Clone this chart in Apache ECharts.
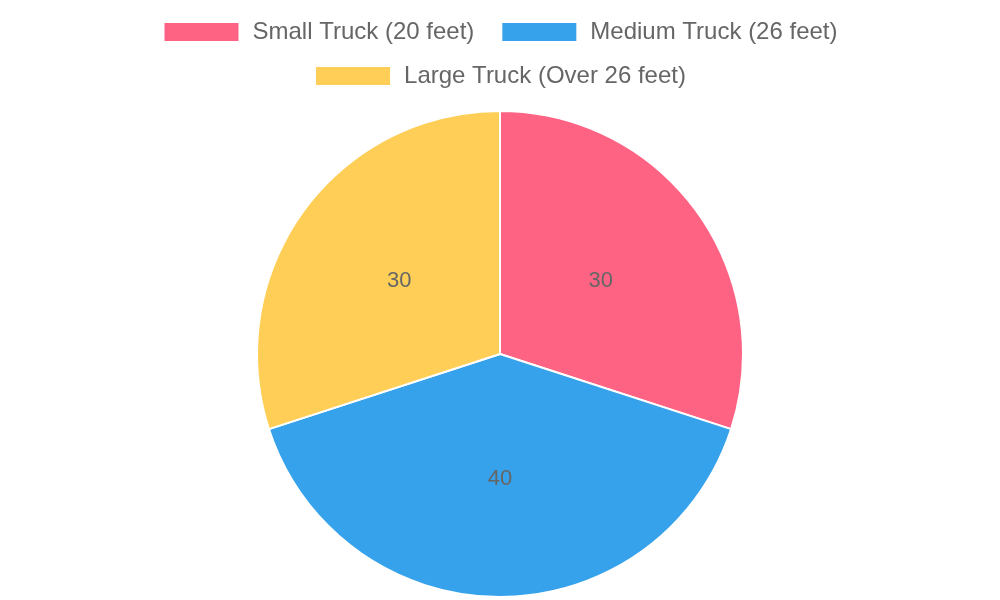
<!DOCTYPE html>
<html><head><meta charset="utf-8">
<script src="https://cdn.jsdelivr.net/npm/echarts@6/dist/echarts.min.js"></script>
<style>html,body{margin:0;padding:0;background:#fff}#c{width:1000px;height:600px}</style>
</head><body><div id="c"></div>
<script>
const categories = ['Small Truck (20 feet)', 'Medium Truck (26 feet)', 'Large Truck (Over 26 feet)'];
const values = [30, 40, 30];
const colors = ['#FF6384', '#36A2EB', '#FFCE56'];
const legendRows = [[0, 1], [2]];

const legendBase = {
  left: 'center',
  padding: 0,
  itemWidth: 76,
  itemHeight: 20,
  itemGap: 26,
  icon: 'rect',
  textStyle: { fontFamily: 'Liberation Sans, Arial', fontSize: 24, color: '#666', padding: [0, 0, 0, 8], lineHeight: 24 }
};

const chart = echarts.init(document.getElementById('c'));
chart.setOption({
  animation: false,
  color: colors,
  legend: legendRows.map((row, r) => Object.assign({}, legendBase, {
    top: 20 + r * 44,
    data: row.map(i => categories[i])
  })),
  series: [{
    type: 'pie',
    center: [500, 354],
    radius: [0, 243],
    startAngle: 90,
    clockwise: true,
    itemStyle: { borderColor: '#fff', borderWidth: 2 },
    label: { show: true, position: 'inside', formatter: '{c}', fontFamily: 'Liberation Sans, Arial', fontSize: 22, color: '#666' },
    labelLine: { show: false },
    emphasis: { disabled: true },
    data: categories.map((n, i) => ({ name: n, value: values[i] }))
  }]
});
</script></body></html>
